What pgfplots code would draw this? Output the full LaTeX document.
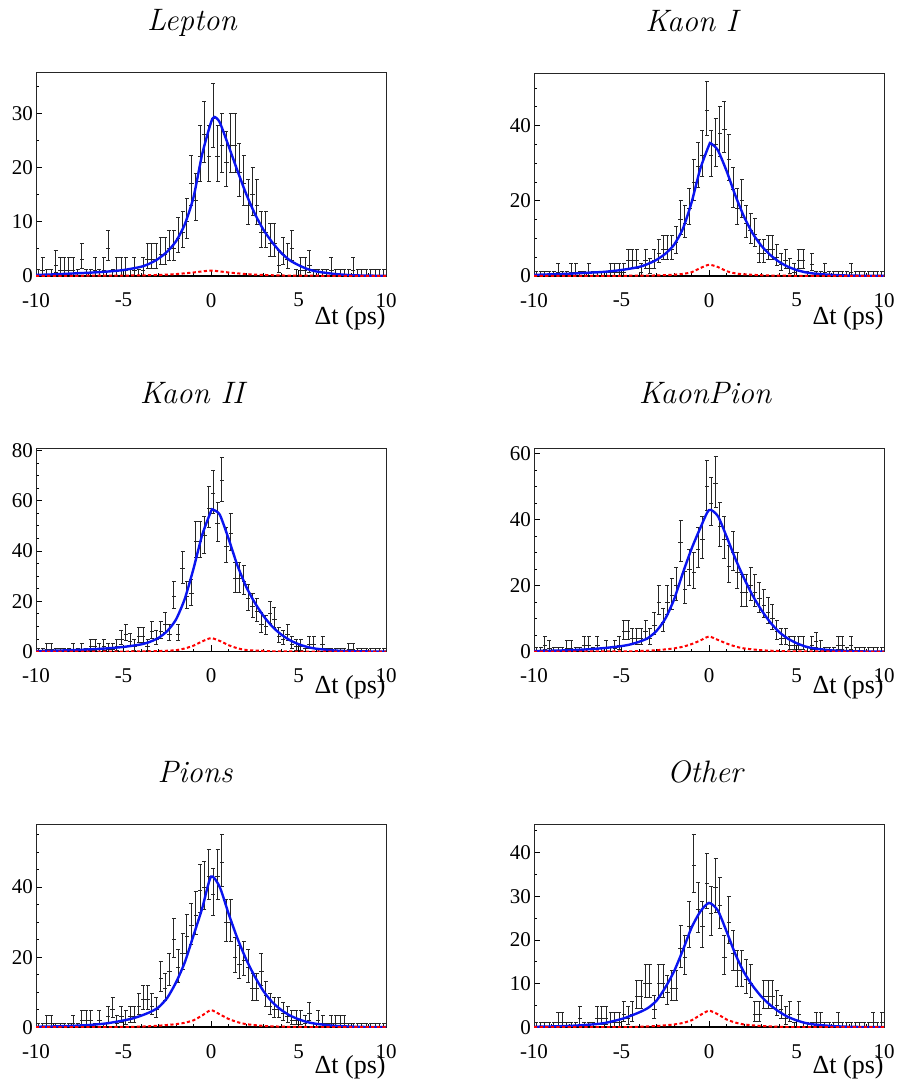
\documentclass[border=0pt]{standalone}
\usepackage{fontspec}
\usepackage{pgfplots}
\usepackage{pgfplotstable}
\pgfplotsset{compat=1.18}
\newfontfamily\tnr{Liberation Serif}
\newcommand{\tickfont}{\tnr\fontsize{10.5}{12}\selectfont}
\newcommand{\labfont}{\tnr\fontsize{13}{15}\selectfont}
\newcommand{\titfont}{\fontsize{15.5}{18}\selectfont\itshape}

\pgfplotstableread{
x lep k1 k2 kp pi ot
-9.875 0 0 0 0 0 0
-9.625 1 0 0 0 0 0
-9.375 0 0 1 2 1 0
-9.125 0 0 1 1 1 0
-8.875 2 0 0 0 0 0
-8.625 1 1 0 0 0 1
-8.375 1 0 0 0 0 1
-8.125 1 0 0 1 0 0
-7.875 1 1 1 1 1 0
-7.625 0 1 0 0 0 0
-7.375 3 0 1 0 2 2
-7.125 0 0 0 2 2 0
-6.875 0 1 2 2 2 0
-6.625 1 0 2 0 0 0
-6.375 0 0 1 2 2 2
-6.125 1 0 2 0 0 2
-5.875 5 0 1 1 3 2
-5.625 0 1 1 0 5 1
-5.375 1 1 2 1 1 1
-5.125 1 1 5 2 3 1
-4.875 1 1 7 6 2 3
-4.625 0 4 4 6 3 2
-4.375 1 4 2 4 3 3
-4.125 0 4 6 4 6 7
-3.875 1 1 6 4 8 7
-3.625 3 4 2 6 8 10
-3.375 3 2 8 4 6 10
-3.125 3 4 5 8 5 4
-2.875 4 6 8 15 14 10
-2.625 4 7 11 9 11 10
-2.375 5 7 7 15 16 8
-2.125 5 7 22 17 25 9
-1.875 7 9 7 20 17 9
-1.625 8 15 33 33 21 18
-1.375 10 14 22 19 26 16
-1.125 17 18 23 25 29 23
-0.875 14 25 44 24 32 37
-0.625 22 29 44 31 39 27
-0.375 26 32 46 34 40 23
-0.125 22 44 57 50 43 33
0.125 29 32 63 45 38 26
0.375 22 35 51 51 43 32
0.625 24 38 68 38 47 28
0.875 21 39 42 34 30 16
1.125 24 31 47 26 30 24
1.375 24 23 29 30 20 17
1.625 19 18 29 24 18 13
1.875 17 20 28 18 19 13
2.125 13 14 21 18 17 11
2.375 15 12 18 20 11 10
2.625 13 11 16 18 11 3
2.875 8 6 11 16 16 3
3.125 8 6 10 14 9 7
3.375 6 7 15 12 6 7
3.625 6 7 13 10 5 7
3.875 2 5 6 6 5 5
4.125 4 3 5 4 4 4
4.375 3 4 7 4 3 2
4.625 5 2 3 2 2 3
4.875 0 1 2 2 2 0
5.125 1 4 2 2 2 3
5.375 1 4 0 2 1 0
5.625 2 0 3 0 4 0
5.875 0 3 3 2 0 0
6.125 0 0 0 3 2 1
6.375 0 0 3 1 1 1
6.625 0 1 0 0 0 0
6.875 1 0 0 0 1 0
7.125 0 0 0 0 1 0
7.375 0 0 0 2 1 1
7.625 0 0 0 2 1 0
7.875 0 0 1 0 0 0
8.125 1 1 1 2 0 0
8.375 0 0 0 0 0 0
8.625 0 0 0 0 0 0
8.875 0 0 0 0 0 0
9.125 0 0 0 0 0 0
9.375 0 0 0 0 0 1
9.625 0 0 0 0 0 0
9.875 0 0 0 0 0 1
}\data

\newcommand{\histo}[1]{%
\addplot[only marks, mark=*, mark size=0pt, mark options={draw=none, fill=none},
  error bars/.cd, x dir=both, x fixed=0.125, error mark=none,
  error bar style={line width=0.5pt, black!85}] table[x=x, y=#1] {\data};
\addplot[only marks, mark=*, mark size=0pt, mark options={draw=none, fill=none},
  error bars/.cd, y dir=both, y explicit,
  error bar style={line width=0.5pt, black!85},
  error mark options={rotate=90, draw=black!85, mark size=1pt, line width=0.5pt}]
  table[x=x, y=#1,
   y error plus expr={ifthenelse(\thisrow{#1}<0.5,1.15,1+sqrt(\thisrow{#1}+0.75))},
   y error minus expr={sqrt(max(\thisrow{#1}-0.25,0))}] {\data};
\draw[line width=0.9pt, black] (axis cs:-10,0) -- (axis cs:10,0);
}

\pgfplotsset{
 panel/.style={
  scale only axis, width=175pt, height=101.5pt,
  xmin=-10, xmax=10, ymin=0,
  xtick={-10,-5,0,5,10}, xticklabels={-10,-5,0,5,10},
  minor xtick={-9,-8,-7,-6,-4,-3,-2,-1,1,2,3,4,6,7,8,9},
  tick pos=left,
  tick align=inside,
  major tick length=3.2pt, minor tick length=1.6pt,
  tick style={black, line width=0.5pt},
  axis line style={line width=0.5pt, black!85},
  /pgf/number format/assume math mode=true,
  tick label style={font=\tickfont},
  xticklabel style={yshift=-5pt},
  yticklabel style={xshift=2pt},
  xlabel={Δt (ps)},
  xlabel style={font=\labfont, at={(axis description cs:1,0)}, anchor=base east, inner sep=0pt},
  title style={font=\titfont, at={(axis description cs:0.5,1)}, anchor=base, inner sep=0pt},
 },
 fitb/.style={color={rgb,255:red,10;green,20;blue,240}, line width=1.2pt, smooth, tension=0.4},
 fitr/.style={red, line width=1pt, dash pattern=on 1.6pt off 1.2pt, smooth, tension=0.4},
}

\begin{document}
\begin{tikzpicture}
\useasboundingbox (0,0) rectangle (450pt,-544.5pt);

% Lepton
\begin{axis}[panel, at={(18pt,-138pt)}, anchor=south west, ymax=37.4,
  ytick={0,10,20,30}, minor ytick={5,15,25,35},
  title={Lepton}, title style={xshift=-9.5pt, yshift=15pt},
  xlabel style={yshift=-24pt}]
\histo{lep}
\addplot[fitb] coordinates {(-10,0.2) (-9,0.3) (-8,0.45) (-7,0.6) (-6,0.8) (-5,1.1) (-4,1.7) (-3.5,2.3) (-3,3.2) (-2.5,4.5) (-2,6.4) (-1.5,9.5) (-1,14.5) (-0.5,22.5) (0,28.3) (0.2,29.3) (0.5,28.3) (1,24) (1.5,19.5) (2,15.2) (2.5,11.5) (3,8.5) (3.5,6.2) (4,4.3) (4.5,2.9) (5,2.0) (5.5,1.3) (6,0.85) (7,0.4) (8,0.15) (9,0.07) (10,0.03)};
\addplot[fitr] coordinates {(-10,0.03) (-6,0.06) (-4,0.12) (-3,0.2) (-2,0.35) (-1.5,0.5) (-1,0.65) (-0.5,0.85) (0,1.0) (0.5,0.85) (1,0.65) (1.5,0.5) (2,0.35) (3,0.2) (4,0.1) (6,0.05) (10,0.02)};
\end{axis}

% Kaon I
\begin{axis}[panel, at={(267pt,-138pt)}, anchor=south west, ymax=54,
  ytick={0,20,40}, minor ytick={5,10,15,25,30,35,45,50},
  title={Kaon I}, title style={xshift=-8.75pt, yshift=15pt},
  xlabel style={yshift=-24pt}]
\histo{k1}
\addplot[fitb] coordinates {(-10,0.3) (-9,0.45) (-8,0.6) (-7,0.85) (-6,1.1) (-5,1.6) (-4,2.4) (-3.5,3.2) (-3,4.3) (-2.5,5.9) (-2,8.3) (-1.5,12.5) (-1,19.5) (-0.5,28.5) (0,34.8) (0.1,35.3) (0.5,33.5) (1,28) (1.5,21.5) (2,15.8) (2.5,11.3) (3,8.0) (3.5,5.6) (4,3.8) (4.5,2.5) (5,1.6) (5.5,1.0) (6,0.65) (7,0.3) (8,0.12) (9,0.06) (10,0.03)};
\addplot[fitr] coordinates {(-10,0.02) (-5,0.06) (-4,0.1) (-3,0.15) (-2,0.35) (-1.5,0.55) (-1,1.0) (-0.5,2.1) (0,3.0) (0.5,2.4) (1,1.3) (1.5,0.7) (2,0.45) (3,0.2) (4,0.1) (6,0.04) (10,0.01)};
\end{axis}

% Kaon II
\begin{axis}[panel, at={(18pt,-325.85pt)}, anchor=south west, ymax=80.7,
  ytick={0,20,40,60,80}, minor ytick={5,10,15,25,30,35,45,50,55,65,70,75},
  title={Kaon II}, title style={xshift=-9.5pt, yshift=16.5pt},
  xlabel style={yshift=-21pt}]
\histo{k2}
\addplot[fitb] coordinates {(-10,0.25) (-9,0.4) (-8,0.6) (-7,0.9) (-6,1.3) (-5,1.9) (-4,2.9) (-3.5,3.9) (-3,5.5) (-2.5,8.2) (-2,12.8) (-1.5,21) (-1,33) (-0.5,46.5) (0,55.8) (0.1,56.5) (0.5,54.5) (1,45) (1.5,34.5) (2,26) (2.5,19.5) (3,14.2) (3.5,10) (4,6.9) (4.5,4.6) (5,3.0) (5.5,1.9) (6,1.2) (7,0.5) (8,0.2) (9,0.1) (10,0.05)};
\addplot[fitr] coordinates {(-10,0.03) (-5,0.08) (-4,0.12) (-3,0.25) (-2,0.6) (-1.5,1.3) (-1,2.4) (-0.5,4.1) (0,5.4) (0.5,4.3) (1,2.6) (1.5,1.4) (2,0.7) (3,0.3) (4,0.12) (6,0.05) (10,0.02)};
\end{axis}

% KaonPion
\begin{axis}[panel, at={(267pt,-325.85pt)}, anchor=south west, ymax=61.6,
  ytick={0,20,40,60}, minor ytick={5,10,15,25,30,35,45,50,55},
  title={KaonPion}, title style={xshift=-2pt, yshift=16.5pt},
  xlabel style={yshift=-21pt}]
\histo{kp}
\addplot[fitb] coordinates {(-10,0.2) (-9,0.3) (-8,0.45) (-7,0.7) (-6,1.1) (-5,1.7) (-4.5,2.2) (-4,3.0) (-3.5,4.1) (-3,6.3) (-2.5,10) (-2,15.8) (-1.5,23.8) (-1,31.2) (-0.5,37.5) (0,43) (0.5,41.2) (1,35) (1.5,28.3) (2,22.3) (2.5,17) (3,12.6) (3.5,8.9) (4,6.0) (4.5,4.0) (5,2.6) (5.5,1.6) (6,1.0) (7,0.4) (8,0.15) (9,0.07) (10,0.03)};
\addplot[fitr] coordinates {(-10,0.02) (-5,0.1) (-4,0.2) (-3,0.45) (-2,1.0) (-1.5,1.5) (-1,2.3) (-0.5,3.4) (0,4.6) (0.5,3.6) (1,2.5) (1.5,1.6) (2,1.0) (3,0.45) (4,0.2) (5,0.1) (10,0.02)};
\end{axis}

% Pions
\begin{axis}[panel, at={(18pt,-513.65pt)}, anchor=south west, ymax=57.9,
  ytick={0,20,40}, minor ytick={5,10,15,25,30,35,45,50,55},
  title={Pions}, title style={xshift=-8pt, yshift=15pt},
  xlabel style={yshift=-23pt}]
\histo{pi}
\addplot[fitb] coordinates {(-10,0.15) (-9,0.25) (-8,0.4) (-7,0.65) (-6,1.1) (-5,1.95) (-4.5,2.5) (-4,3.3) (-3.5,4.3) (-3,5.7) (-2.5,8.4) (-2,12.8) (-1.5,18.5) (-1,26.2) (-0.5,34) (0,43) (0.5,40) (1,32.5) (1.5,25.5) (2,19.5) (2.5,14.5) (3,10.3) (3.5,7.2) (4,5.0) (4.5,3.4) (5,2.3) (5.5,1.5) (6,1.0) (7,0.45) (8,0.2) (9,0.08) (10,0.04)};
\addplot[fitr] coordinates {(-10,0.02) (-5,0.1) (-4,0.2) (-3,0.45) (-2,0.9) (-1.5,1.3) (-1,2.0) (-0.5,3.4) (0,4.9) (0.5,3.7) (1,2.4) (1.5,1.5) (2,0.9) (3,0.4) (4,0.2) (5,0.1) (10,0.02)};
\end{axis}

% Other
\begin{axis}[panel, at={(267pt,-513.65pt)}, anchor=south west, ymax=46.5,
  ytick={0,10,20,30,40}, minor ytick={5,15,25,35,45},
  title={Other}, title style={xshift=-2pt, yshift=15pt},
  xlabel style={yshift=-23pt}]
\histo{ot}
\addplot[fitb] coordinates {(-10,0.12) (-9,0.2) (-8,0.32) (-7,0.55) (-6,0.95) (-5,1.9) (-4.5,2.6) (-4,3.4) (-3.5,4.4) (-3,6.1) (-2.5,9.1) (-2,12.8) (-1.5,17.6) (-1,22.8) (-0.5,26.5) (0,28.5) (0.5,26.8) (1,22) (1.5,16.8) (2,12.6) (2.5,9.5) (3,7.0) (3.5,5.1) (4,3.6) (4.5,2.4) (5,1.6) (5.5,1.0) (6,0.65) (7,0.3) (8,0.12) (9,0.06) (10,0.03)};
\addplot[fitr] coordinates {(-10,0.02) (-5,0.05) (-4,0.12) (-3,0.3) (-2,0.65) (-1.5,1.0) (-1,1.6) (-0.5,2.8) (0,3.8) (0.5,3.0) (1,1.8) (1.5,1.1) (2,0.65) (3,0.3) (4,0.12) (5,0.05) (10,0.02)};
\end{axis}
\end{tikzpicture}
\end{document}
